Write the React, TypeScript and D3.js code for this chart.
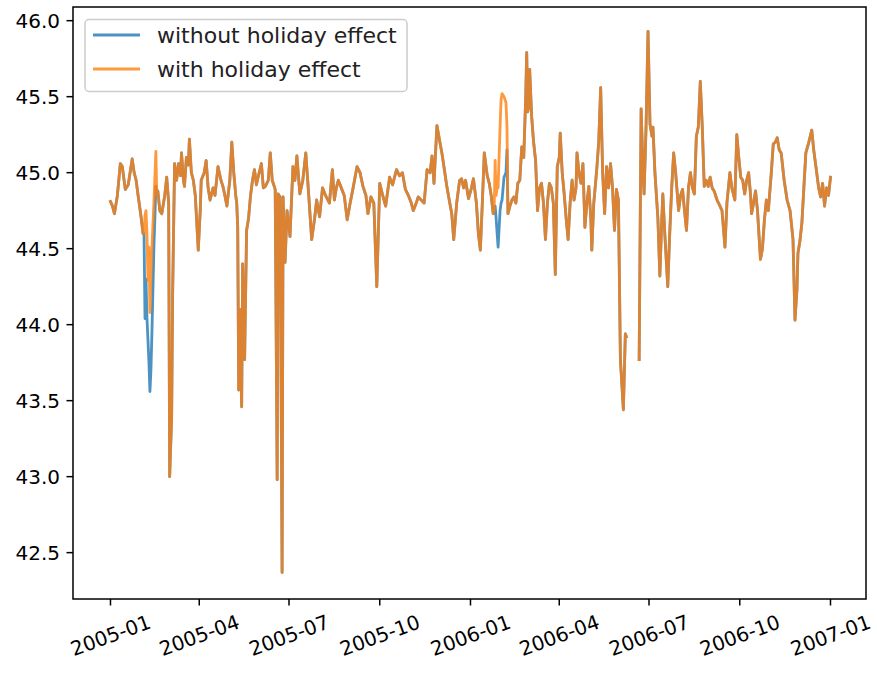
import React from "react";
import * as d3 from "d3";

// Day offsets from START and the forecast values (null = missing data)
const START = "2005-01-01";

const withoutHoliday: [number, number | null][] = [
  [0, 44.81], [2, 44.78], [4, 44.73], [7, 44.85], [10, 45.06], [12, 45.04], [15, 44.89], [18, 44.92],
  [22, 45.09], [24, 45.0], [26, 44.95], [28, 44.85], [31, 44.71], [33, 44.6], [34, 44.6], [35, 44.04],
  [36, 44.3], [37, 44.04], [38, 43.9], [39, 43.75], [40, 43.56], [41, 43.7], [42, 43.94], [44, 44.5],
  [46, 44.91], [47, 44.85], [48, 44.88], [50, 44.75], [52, 44.73], [55, 44.85], [57, 44.97], [59, 44.8],
  [60, 43.0], [62, 43.39], [63, 44.2], [65, 45.06], [67, 44.95], [69, 45.06], [71, 44.98], [72, 45.13],
  [74, 44.95], [75, 44.91], [77, 45.1], [79, 45.05], [80, 45.22], [82, 45.0], [84, 44.95], [86, 44.85],
  [89, 44.49], [91, 44.75], [92, 44.95], [95, 45.0], [97, 45.08], [99, 44.9], [101, 44.82], [104, 44.9],
  [106, 44.85], [109, 45.04], [112, 44.95], [114, 44.91], [116, 44.85], [118, 44.78], [121, 44.95], [123, 45.2],
  [125, 45.0], [127, 44.85], [128, 44.8], [129, 44.64], [130, 43.57], [131, 44.1], [133, 43.46], [134, 44.4],
  [136, 43.77], [138, 44.62], [140, 44.7], [142, 44.85], [144, 44.95], [146, 45.02], [148, 44.92], [150, 44.98],
  [153, 45.06], [155, 44.9], [157, 44.91], [160, 44.95], [162, 45.13], [164, 44.95], [167, 44.89], [169, 42.98],
  [170, 44.86], [172, 44.84], [174, 42.37], [175, 44.84], [177, 44.41], [179, 44.75], [182, 44.58], [185, 45.04],
  [187, 44.95], [189, 45.11], [192, 44.86], [195, 44.95], [198, 45.13], [201, 44.85], [204, 44.56], [207, 44.7],
  [209, 44.82], [212, 44.71], [215, 44.9], [218, 44.85], [222, 44.8], [225, 45.02], [227, 44.82], [229, 44.9],
  [231, 44.95], [234, 44.9], [237, 44.85], [240, 44.69], [243, 44.8], [246, 44.9], [250, 45.04], [253, 45.0],
  [256, 44.91], [259, 44.85], [261, 44.73], [264, 44.84], [267, 44.8], [270, 44.25], [273, 44.93], [276, 44.85],
  [279, 44.78], [283, 44.97], [286, 44.92], [290, 45.02], [293, 44.98], [296, 45.0], [299, 44.89], [302, 44.85],
  [305, 44.8], [307, 44.75], [310, 44.8], [312, 44.84], [315, 44.82], [318, 44.8], [321, 45.02], [324, 45.0],
  [326, 45.11], [328, 44.93], [331, 45.31], [334, 45.2], [336, 45.13], [339, 45.0], [341, 44.91], [344, 44.8],
  [346, 44.73], [348, 44.56], [351, 44.8], [354, 44.95], [356, 44.96], [358, 44.9], [360, 44.95], [363, 44.83],
  [366, 44.9], [368, 44.96], [371, 44.8], [373, 44.6], [375, 44.49], [377, 44.8], [379, 45.13], [382, 44.98],
  [384, 44.93], [386, 44.85], [388, 44.73], [389, 44.75], [390, 44.78], [391, 44.7], [392, 44.6], [393, 44.51],
  [395, 44.75], [396, 44.8], [397, 44.82], [399, 44.97], [401, 45.0], [402, 45.15], [403, 44.73], [405, 44.78],
  [407, 44.82], [409, 44.84], [411, 44.8], [413, 44.93], [415, 44.95], [417, 45.17], [419, 45.1], [421, 45.5],
  [422, 45.79], [423, 45.4], [424, 45.43], [425, 45.68], [427, 45.37], [429, 45.2], [431, 45.08], [433, 44.75],
  [435, 44.9], [437, 44.93], [439, 44.8], [441, 44.56], [443, 44.8], [445, 44.93], [447, 44.9], [449, 44.8],
  [451, 44.33], [453, 45.04], [455, 45.1], [456, 45.26], [458, 45.0], [460, 44.86], [462, 44.7], [464, 44.56],
  [466, 44.8], [468, 44.95], [470, 44.82], [472, 44.9], [473, 45.13], [475, 45.0], [477, 44.93], [479, 45.06],
  [481, 44.64], [483, 44.8], [485, 44.91], [487, 44.7], [488, 44.49], [490, 44.8], [493, 45.02], [495, 45.2],
  [497, 45.56], [499, 45.0], [501, 44.73], [503, 45.04], [505, 44.9], [507, 45.06], [509, 44.9], [511, 44.62],
  [513, 44.89], [515, 44.82], [517, 43.77], [520, 43.44], [522, 43.94], [523, 43.92], [529, null], [536, 43.77],
  [538, 45.42], [540, 45.0], [541, 44.86], [543, 45.3], [545, 45.93], [547, 45.32], [549, 45.24], [550, 45.3],
  [552, 45.0], [555, 44.7], [557, 44.32], [559, 44.7], [560, 44.86], [562, 44.6], [565, 44.25], [567, 44.6],
  [569, 44.9], [571, 45.13], [573, 45.0], [576, 44.75], [578, 44.85], [580, 44.89], [582, 44.75], [584, 44.62],
  [586, 44.9], [588, 45.0], [590, 44.9], [592, 44.86], [594, 45.24], [596, 45.3], [598, 45.6], [600, 45.3],
  [602, 44.91], [604, 44.95], [606, 44.91], [608, 44.97], [610, 44.9], [612, 44.88], [615, 44.82], [618, 44.78],
  [620, 44.75], [623, 44.51], [625, 44.8], [628, 45.0], [630, 44.9], [633, 44.82], [635, 45.25], [637, 45.1],
  [639, 44.97], [641, 44.95], [643, 44.86], [645, 44.95], [647, 45.0], [649, 44.85], [650, 44.73], [652, 44.8],
  [654, 44.88], [656, 44.75], [659, 44.43], [661, 44.5], [663, 44.69], [665, 44.82], [667, 44.75], [670, 45.0],
  [672, 45.19], [674, 45.2], [676, 45.23], [678, 45.15], [680, 45.13], [683, 44.95], [686, 44.82], [689, 44.75],
  [692, 44.56], [694, 44.03], [696, 44.23], [697, 44.47], [699, 44.55], [701, 44.67], [703, 44.9], [705, 45.13],
  [708, 45.2], [711, 45.28], [713, 45.15], [716, 45.0], [718, 44.9], [720, 44.84], [722, 44.93], [724, 44.78],
  [726, 44.9], [728, 44.85], [730, 44.97],
];

// Values of the "with holiday effect" series where it differs from the one above
const holidayOverrides: [number, number][] = [
  [35, 44.72], [36, 44.75], [37, 44.6], [38, 44.29], [39, 44.51], [40, 44.08], [41, 44.3], [42, 44.5],
  [44, 44.8], [46, 45.14],
  [390, 45.08], [391, 44.85], [392, 44.9], [393, 44.9], [395, 45.3], [396, 45.48], [397, 45.52], [399, 45.5],
  [401, 45.46], [402, 45.3],
];

const yTicks = [42.5, 43.0, 43.5, 44.0, 44.5, 45.0, 45.5, 46.0];
const xTickLabels = ["2005-01", "2005-04", "2005-07", "2005-10", "2006-01", "2006-04", "2006-07", "2006-10", "2007-01"];
const seriesNames = ["without holiday effect", "with holiday effect"];
const seriesColors = ["#1f77b4", "#ff7f0e"];

const W = 877;
const H = 677;
const FONT = "DejaVu Sans, sans-serif";

export default function App() {
  const plot = { left: 73, right: 866, top: 7, bottom: 599 };
  const parse = d3.utcParse("%Y-%m-%d");
  const start = parse(START)!;
  const dayToDate = (d: number) => new Date(start.getTime() + d * 864e5);

  const x = d3.scaleUtc().domain([dayToDate(-38), dayToDate(766)]).range([plot.left, plot.right]);
  const y = d3.scaleLinear().domain([42.195, 46.09]).range([plot.bottom, plot.top]);

  const overrideMap = new Map(holidayOverrides);
  const seriesA = withoutHoliday.map(([d, v]) => ({ date: dayToDate(d), v }));
  const seriesB = withoutHoliday.map(([d, v]) => ({ date: dayToDate(d), v: overrideMap.has(d) ? overrideMap.get(d)! : v }));

  const line = d3
    .line<{ date: Date; v: number | null }>()
    .defined((p) => p.v != null)
    .x((p) => x(p.date))
    .y((p) => y(p.v as number));

  const tickLen = 6.5;
  const pad = 6.5;
  const fs = 20;
  const legendFs = 22;
  const angle = 20;
  const rad = (angle * Math.PI) / 180;

  return (
    <svg width={W} height={H} style={{ position: "absolute", left: 0, top: 0, background: "#fff" }} fontFamily={FONT}>
      <rect x={0} y={0} width={W} height={H} fill="#fff" />
      <defs>
        <clipPath id="plotclip">
          <rect x={plot.left} y={plot.top} width={plot.right - plot.left} height={plot.bottom - plot.top} />
        </clipPath>
      </defs>
      <g clipPath="url(#plotclip)">
        {[seriesA, seriesB].map((s, i) => (
          <path
            key={i}
            d={line(s) || ""}
            fill="none"
            stroke={seriesColors[i]}
            strokeOpacity={0.8}
            strokeWidth={2.8}
            strokeLinejoin="round"
            strokeLinecap="square"
          />
        ))}
      </g>
      {/* frame */}
      <rect
        x={plot.left}
        y={plot.top}
        width={plot.right - plot.left}
        height={plot.bottom - plot.top}
        fill="none"
        stroke="#000"
        strokeWidth={1.5}
      />
      {/* y ticks */}
      {yTicks.map((t) => (
        <g key={t}>
          <line x1={plot.left - tickLen} x2={plot.left} y1={y(t)} y2={y(t)} stroke="#000" strokeWidth={1.5} />
          <text x={plot.left - tickLen - pad} y={y(t)} dy="0.36em" textAnchor="end" fontSize={fs} fill="#000">
            {t.toFixed(1)}
          </text>
        </g>
      ))}
      {/* x ticks */}
      {xTickLabels.map((lbl) => {
        const tx = x(parse(lbl + "-01")!);
        const L = fs * 4.18;
        const h = fs * 0.95;
        const bh = L * Math.sin(rad) + h * Math.cos(rad);
        const cy = plot.bottom + tickLen + pad + bh / 2;
        return (
          <g key={lbl}>
            <line x1={tx} x2={tx} y1={plot.bottom} y2={plot.bottom + tickLen} stroke="#000" strokeWidth={1.5} />
            <text
              transform={`translate(${tx},${cy}) rotate(${-angle})`}
              textAnchor="middle"
              dy="0.36em"
              fontSize={fs}
              fill="#000"
            >
              {lbl}
            </text>
          </g>
        );
      })}
      {/* legend */}
      <g>
        <rect x={85} y={19.5} width={322} height={72} rx={4} fill="#fff" fillOpacity={0.8} stroke="#cccccc" strokeWidth={1.5} />
        {seriesNames.map((n, i) => (
          <g key={n}>
            <line
              x1={93}
              x2={140}
              y1={35 + i * 34}
              y2={35 + i * 34}
              stroke={seriesColors[i]}
              strokeOpacity={0.8}
              strokeWidth={2.8}
            />
            <text x={157} y={35 + i * 34} dy="0.36em" fontSize={legendFs} fill="#222">
              {n}
            </text>
          </g>
        ))}
      </g>
    </svg>
  );
}
